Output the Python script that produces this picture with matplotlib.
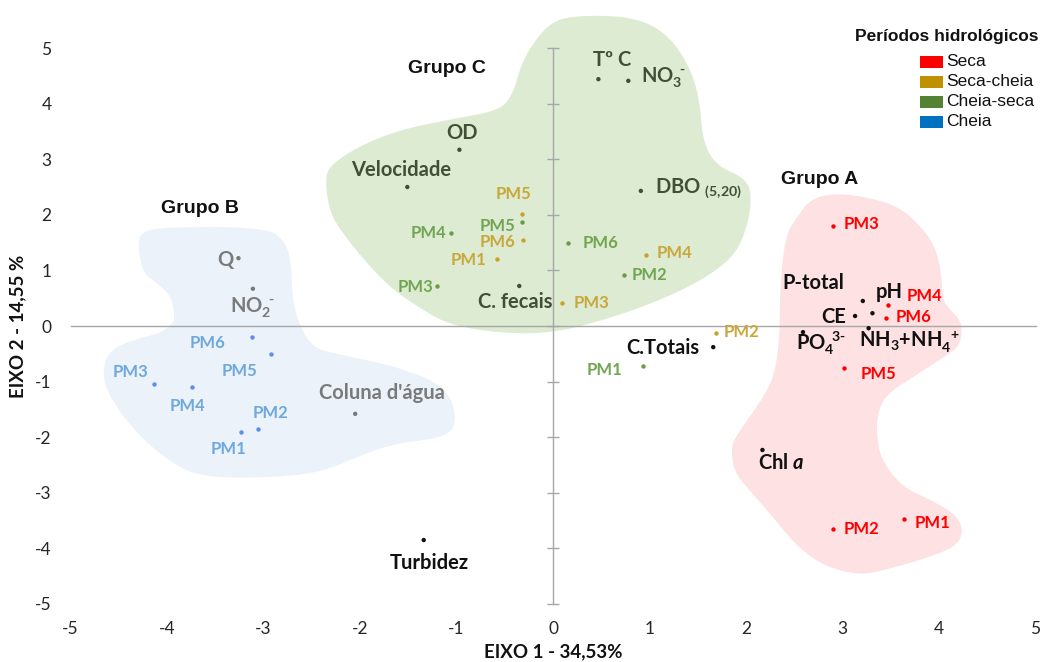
import numpy as np
import matplotlib.pyplot as plt
from matplotlib.patches import Polygon, Rectangle

plt.rcParams['font.family'] = ['Lato', 'DejaVu Sans']
plt.rcParams['axes.unicode_minus'] = False
plt.rcParams['mathtext.fontset'] = 'custom'
plt.rcParams['mathtext.rm'] = 'Lato:bold'
plt.rcParams['mathtext.it'] = 'Lato:bold:italic'
plt.rcParams['mathtext.bf'] = 'Lato:bold'

# PCA scores of the sampling points (PM1..PM6) for each hydrological period
pm_names = ['PM1', 'PM2', 'PM3', 'PM4', 'PM5', 'PM6']
seca_x = [3.64, 2.90, 2.90, 3.47, 3.02, 3.45]
seca_y = [-3.47, -3.65, 1.80, 0.38, -0.76, 0.14]
seca_cheia_x = [-0.58, 1.69, 0.09, 0.96, -0.32, -0.31]
seca_cheia_y = [1.21, -0.13, 0.41, 1.28, 2.01, 1.55]
cheia_seca_x = [0.93, 0.74, -1.20, -1.06, -0.32, 0.15]
cheia_seca_y = [-0.72, 0.92, 0.72, 1.67, 1.87, 1.49]
cheia_x = [-3.23, -3.06, -4.13, -3.74, -2.92, -3.12]
cheia_y = [-1.91, -1.85, -1.04, -1.10, -0.50, -0.20]

# variable loadings
var_names = ['Tº C', r'NO$_3^{\;\;\text{-}}$', 'OD', 'Velocidade', r'DBO $_{(5{,}20)}$', 'C. fecais',
             'Q', r'NO$_2^{\;\;\text{-}}$', "Coluna d'água", 'Turbidez', 'C.Totais',
             'P-total', 'pH', 'CE', r'NH$_3$+NH$_4^{\;\;+}$', r'PO$_4^{\;\;3\text{-}}$', r'Chl $a$']
var_x = [0.47, 0.78, -0.97, -1.51, 0.91, -0.35, -3.26, -3.11, -2.05, -1.34, 1.66,
         3.31, 3.21, 3.13, 3.27, 2.59, 2.17]
var_y = [4.44, 4.41, 3.17, 2.50, 2.43, 0.72, 1.22, 0.67, -1.58, -3.85, -0.38,
         0.23, 0.45, 0.18, -0.04, -0.11, -2.23]

# label offsets (pixels) and horizontal alignment
seca_off = [(10, -4, 'left'), (11, 0, 'left'), (11, 2, 'left'), (19, 9, 'left'),
            (16, -6, 'left'), (10, 1, 'left')]
seca_cheia_off = [(-11, -1, 'right'), (8, 1, 'left'), (12, 0, 'left'), (11, 2, 'left'),
                  (-9, 20, 'center'), (-8, -2, 'right')]
cheia_seca_off = [(-20, -4, 'right'), (7, 0, 'left'), (-4, -1, 'right'), (-4, 0, 'right'),
                  (-7, -4, 'right'), (15, 0, 'left')]
cheia_off = [(-13, -17, 'center'), (13, 16, 'center'), (-6, 12, 'right'), (-5, -19, 'center'),
             (-32, -17, 'center'), (-27, -6, 'right')]
var_off = [(14, 19, 'center'), (13, 3, 'left'), (3, 17, 'center'), (-6, 17, 'center'),
           (14, 3, 'left'), (-4, -16, 'center'), (-5, -2, 'right'), (-1, -19, 'center'),
           (27, 21, 'center'), (6, -23, 'center'), (-14, -1, 'right'),
           (-59, 30, 'center'), (13, 9, 'left'), (-9, -1, 'right'), (41, -14, 'center'),
           (18, -11, 'center'), (19, -13, 'center')]
var_col = ['#3F5034'] * 6 + ['#7A7A7A'] * 3 + ['#111111'] * 8

# group outlines
grupo_c = [(0, 5.50), (0.31, 5.59), (0.83, 5.56), (1.18, 5.27), (1.42, 4.66), (1.52, 4.06),
           (1.55, 3.35), (1.68, 2.90), (1.99, 2.66), (2.06, 2.36), (2.02, 1.82), (1.89, 1.28),
           (1.58, 0.86), (1.12, 0.47), (0.59, 0.14), (0, -0.13), (-0.55, -0.13), (-1.07, 0.02),
           (-1.35, 0.29), (-1.66, 0.65), (-1.93, 1.13), (-2.18, 1.67), (-2.31, 2.03),
           (-2.36, 2.57), (-2.33, 2.86), (-2.03, 3.22), (-1.59, 3.53), (-0.99, 3.74),
           (-0.55, 3.88), (-0.41, 4.19), (-0.34, 4.66), (-0.21, 5.09)]
grupo_b = [(-4.28, 1.67), (-4.07, 1.78), (-2.96, 1.78), (-2.76, 1.49), (-2.71, 1.06),
           (-2.70, 0.47), (-2.62, -0.02), (-2.49, -0.38), (-2.28, -0.49), (-1.59, -0.74),
           (-1.10, -1.10), (-0.99, -1.69), (-1.10, -2.00), (-1.59, -2.10), (-1.93, -2.28),
           (-2.41, -2.64), (-2.96, -2.73), (-3.66, -2.72), (-4.00, -2.41), (-4.35, -1.87),
           (-4.62, -1.21), (-4.67, -0.79), (-4.59, -0.43), (-4.35, -0.25), (-4.07, -0.13),
           (-3.94, 0.05), (-3.92, 0.16), (-3.95, 0.52), (-4.10, 0.77), (-4.25, 0.95),
           (-4.30, 1.42)]
grupo_a = [(2.90, 2.39), (3.25, 2.32), (3.60, 2.14), (3.88, 1.67), (4.01, 1.19), (4.04, 0.47),
           (4.09, 0.34), (4.22, 0.11), (4.24, -0.13), (4.20, -0.38), (4.05, -0.56),
           (3.73, -0.92), (3.47, -1.21), (3.37, -1.51), (3.35, -1.92), (3.40, -2.41),
           (3.62, -2.90), (3.98, -3.18), (4.20, -3.44), (4.25, -3.72), (4.17, -3.97),
           (3.88, -4.17), (3.44, -4.39), (3.18, -4.48), (2.82, -4.33), (2.53, -3.97),
           (2.28, -3.44), (2.06, -3.00), (1.88, -2.64), (1.84, -2.18), (1.92, -1.92),
           (2.09, -1.51), (2.24, -1.10), (2.31, -0.74), (2.35, -0.13), (2.35, 0.47),
           (2.37, 1.06), (2.42, 1.67), (2.53, 1.96), (2.66, 2.27)]


def smooth(pts, n=3):
    # Chaikin corner cutting for a closed outline
    p = np.array(pts)
    for _ in range(n):
        q = np.roll(p, -1, axis=0)
        p = np.stack([0.75 * p + 0.25 * q, 0.25 * p + 0.75 * q], axis=1).reshape(-1, 2)
    return p


W, H = 1048, 662
fig = plt.figure(figsize=(W / 100, H / 100), dpi=100)
ax = fig.add_axes([57.0 / W, (H - 615.1) / H, (1045.2 - 57.0) / W, (615.1 - 11.9) / H])
ax.set_xlim(-5.14, 5.1)
ax.set_ylim(-5.2, 5.65)
for s in ax.spines.values():
    s.set_visible(False)

for pts, col in [(grupo_c, '#DDEBD3'), (grupo_b, '#EBF2FA'), (grupo_a, '#FDE1E3')]:
    ax.add_patch(Polygon(smooth(pts), closed=True, facecolor=col, edgecolor='none', zorder=1))

# axis lines through the origin
ax.plot([-5, 5], [0, 0], color='#A6A6A6', lw=1, zorder=2)
ax.plot([0, 0], [-5, 5], color='#A6A6A6', lw=1, zorder=2)
ax.plot(np.zeros(11), np.arange(-5, 6), linestyle='none', marker='_', markersize=9,
        markeredgewidth=1, color='#A6A6A6', zorder=2)

ax.set_xticks(range(-5, 6))
ax.set_yticks(range(-5, 6))
ax.tick_params(length=0, labelsize=12.5, labelcolor='#262626', pad=4)

groups = [
    (seca_x, seca_y, seca_off, '#FF0000', '#FF0000'),
    (seca_cheia_x, seca_cheia_y, seca_cheia_off, '#C9A227', '#C8A83A'),
    (cheia_seca_x, cheia_seca_y, cheia_seca_off, '#6A9A45', '#72A552'),
    (cheia_x, cheia_y, cheia_off, '#5B8DEF', '#6FA8DC'),
]
for gx, gy, goff, dot_col, txt_col in groups:
    ax.scatter(gx, gy, s=10, color=dot_col, zorder=4, linewidths=0)
    for name, x, y, (dx, dy, ha) in zip(pm_names, gx, gy, goff):
        ax.annotate(name, (x, y), xytext=(dx, dy), textcoords='offset pixels',
                    ha=ha, va='center', fontsize=12, fontweight='bold', color=txt_col, zorder=5)

ax.scatter(var_x, var_y, s=10, color=var_col, zorder=4, linewidths=0)
for name, x, y, (dx, dy, ha), col in zip(var_names, var_x, var_y, var_off, var_col):
    ax.annotate(name, (x, y), xytext=(dx, dy), textcoords='offset pixels',
                ha=ha, va='center', fontsize=14.5, fontweight='bold', color=col, zorder=5)

for txt, x, y in [('Grupo C', -1.10, 4.64), ('Grupo B', -3.66, 2.12), ('Grupo A', 2.76, 2.63)]:
    ax.text(x, y, txt, ha='center', va='center', fontsize=14, fontweight='bold',
            family='Liberation Sans', color='#111111', zorder=5)

# legend
fig.text(947 / W, 1 - 37 / H, 'Períodos hidrológicos', ha='center', va='center',
         fontsize=12.5, fontweight='bold', family='Liberation Sans', color='#111111')
leg_names = ['Seca', 'Seca-cheia', 'Cheia-seca', 'Cheia']
leg_cols = ['#FF0000', '#BF9000', '#548235', '#0070C0']
for i, (name, col) in enumerate(zip(leg_names, leg_cols)):
    yc = 62 + 20 * i
    fig.patches.append(Rectangle((920 / W, 1 - (yc + 6) / H), 23 / W, 12 / H,
                                 transform=fig.transFigure, facecolor=col, edgecolor='none'))
    fig.text(946 / W, 1 - yc / H, name, ha='left', va='center', fontsize=12.5,
             family='Liberation Sans', color='#111111')

fig.text(553 / W, 1 - 652 / H, 'EIXO 1 - 34,53%', ha='center', va='center',
         fontsize=13.5, fontweight='bold', color='#111111')
fig.text(18 / W, 1 - 326 / H, 'EIXO 2 - 14,55 %', ha='center', va='center', rotation=90,
         fontsize=13.5, fontweight='bold', color='#111111')

fig.savefig('out.png', dpi=100)
